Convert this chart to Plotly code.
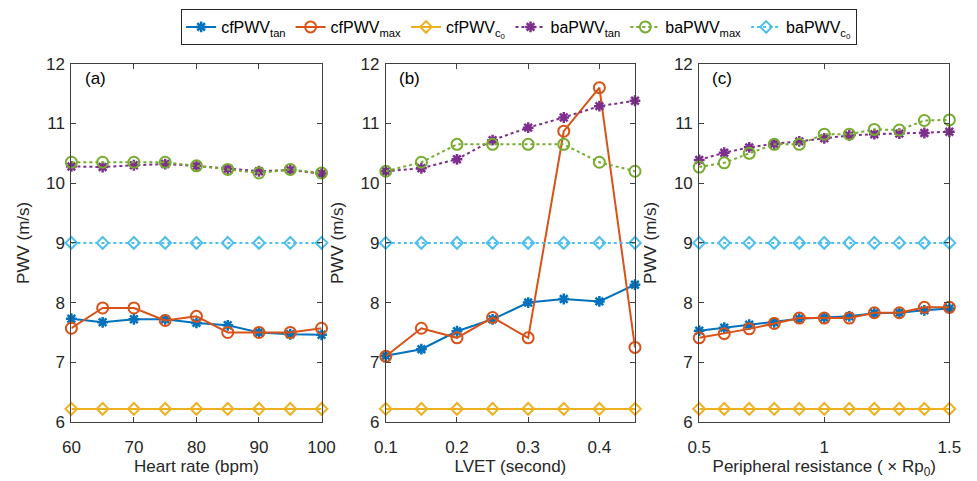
import plotly.graph_objects as go

# ---- data ----
hr = [60, 65, 70, 75, 80, 85, 90, 95, 100]
hr_cf_tan = [7.73, 7.67, 7.72, 7.72, 7.66, 7.62, 7.50, 7.47, 7.46]
hr_cf_max = [7.57, 7.91, 7.91, 7.70, 7.77, 7.50, 7.50, 7.50, 7.57]
hr_cf_c0 = [6.22] * 9
hr_ba_tan = [10.28, 10.27, 10.30, 10.32, 10.29, 10.24, 10.20, 10.22, 10.16]
hr_ba_max = [10.35, 10.35, 10.35, 10.35, 10.29, 10.23, 10.17, 10.23, 10.17]
hr_ba_c0 = [9.0] * 9

lvet = [0.10, 0.15, 0.20, 0.25, 0.30, 0.35, 0.40, 0.45]
lv_cf_tan = [7.11, 7.22, 7.52, 7.72, 8.00, 8.06, 8.02, 8.30]
lv_cf_max = [7.10, 7.57, 7.41, 7.75, 7.41, 10.87, 11.60, 7.25]
lv_cf_c0 = [6.22] * 8
lv_ba_tan = [10.20, 10.25, 10.40, 10.72, 10.93, 11.10, 11.29, 11.38]
lv_ba_max = [10.20, 10.35, 10.65, 10.65, 10.65, 10.65, 10.35, 10.20]
lv_ba_c0 = [9.0] * 8

pr = [0.5, 0.6, 0.7, 0.8, 0.9, 1.0, 1.1, 1.2, 1.3, 1.4, 1.5]
pr_cf_tan = [7.53, 7.58, 7.63, 7.67, 7.73, 7.75, 7.77, 7.82, 7.83, 7.87, 7.90]
pr_cf_max = [7.41, 7.48, 7.56, 7.65, 7.74, 7.74, 7.74, 7.83, 7.83, 7.92, 7.92]
pr_cf_c0 = [6.22] * 11
pr_ba_tan = [10.39, 10.51, 10.60, 10.66, 10.70, 10.75, 10.80, 10.82, 10.83, 10.84, 10.86]
pr_ba_max = [10.27, 10.34, 10.50, 10.65, 10.65, 10.82, 10.82, 10.90, 10.89, 11.05, 11.06]
pr_ba_c0 = [9.0] * 11

names = ["cfPWV<sub>tan</sub>", "cfPWV<sub>max</sub>", "cfPWV<sub>c<sub>0</sub></sub>",
         "baPWV<sub>tan</sub>", "baPWV<sub>max</sub>", "baPWV<sub>c<sub>0</sub></sub>"]
colors = ["#0072BD", "#D95319", "#EDB120", "#7E2F8E", "#77AC30", "#4DBEEE"]
symbols = ["asterisk-open", "circle-open", "diamond-open", "asterisk-open", "circle-open", "diamond-open"]
dashes = ["solid", "solid", "solid", "dot", "dot", "dot"]

panels = [
    (hr, [hr_cf_tan, hr_cf_max, hr_cf_c0, hr_ba_tan, hr_ba_max, hr_ba_c0]),
    (lvet, [lv_cf_tan, lv_cf_max, lv_cf_c0, lv_ba_tan, lv_ba_max, lv_ba_c0]),
    (pr, [pr_cf_tan, pr_cf_max, pr_cf_c0, pr_ba_tan, pr_ba_max, pr_ba_c0]),
]

fig = go.Figure()
for p, (xs, series) in enumerate(panels):
    ax = "" if p == 0 else str(p + 1)
    for i, ys in enumerate(series):
        fig.add_trace(go.Scatter(
            x=xs, y=ys, mode="lines+markers", name=names[i],
            legendgroup=names[i], showlegend=(p == 0),
            xaxis="x" + ax, yaxis="y" + ax, cliponaxis=False,
            line=dict(color=colors[i], width=2, dash=dashes[i]),
            marker=dict(symbol=symbols[i], size=11 if "circle" in symbols[i] else 9,
                        color=colors[i],
                        line=dict(color=colors[i], width=2.5 if "asterisk" in symbols[i] else 2)),
        ))

font = "Helvetica, Arial, Liberation Sans, sans-serif"
tc = "#262626"
doms = [[61 / 977, 318 / 977], [384 / 977, 640 / 977], [706 / 977, 963 / 977]]
ydom = [1 - 430 / 481, 1 - 57 / 481]
xtitles = ["Heart rate (bpm)", "LVET (second)", "Peripheral resistance ( \u00d7 Rp<sub>0</sub>)"]
xranges = [[60, 100], [0.1, 0.45], [0.5, 1.5]]
xticks = [[60, 70, 80, 90, 100], [0.1, 0.2, 0.3, 0.4], [0.5, 1, 1.5]]
xticktext = [["60", "70", "80", "90", "100"], ["0.1", "0.2", "0.3", "0.4"], ["0.5", "1", "1.5"]]

axcommon = dict(showline=True, linecolor="#404040", linewidth=1, mirror="ticks",
                ticks="inside", ticklen=5, tickcolor="#404040", showgrid=False,
                zeroline=False, tickfont=dict(size=17, color=tc, family=font),
                title_font=dict(size=17, color=tc, family=font))
layout = {}
for p in range(3):
    k = "" if p == 0 else str(p + 1)
    layout["xaxis" + k] = dict(domain=doms[p], range=xranges[p], tickvals=xticks[p],
                               ticktext=xticktext[p], anchor="y" + k, ticklabelstandoff=10,
                               title=dict(text=xtitles[p], standoff=3), **axcommon)
    layout["yaxis" + k] = dict(domain=ydom, range=[6, 12], tickvals=[6, 7, 8, 9, 10, 11, 12],
                               anchor="x" + k, ticklabelstandoff=2,
                               title=dict(text="PWV (m/s)", standoff=12),
                               **axcommon)

fig.update_layout(
    width=977, height=481, margin=dict(l=0, r=0, t=0, b=0),
    plot_bgcolor="white", paper_bgcolor="white",
    font=dict(family=font, color="#000000"),
    legend=dict(orientation="h", x=521 / 977, xanchor="center", y=1, yanchor="top",
                bordercolor="#262626", borderwidth=1, bgcolor="white",
                font=dict(size=16, family=font, color="#000000"), itemwidth=30,
                tracegroupgap=0),
    **layout,
)
for p, lab in enumerate(["(a)", "(b)", "(c)"]):
    k = "" if p == 0 else str(p + 1)
    fig.add_annotation(text=lab, xref="x" + k + " domain", yref="y" + k + " domain",
                       x=0.045, y=0.96, xanchor="left", yanchor="middle", showarrow=False,
                       font=dict(size=17, color="#000000", family=font))

fig.write_html("out.html")
